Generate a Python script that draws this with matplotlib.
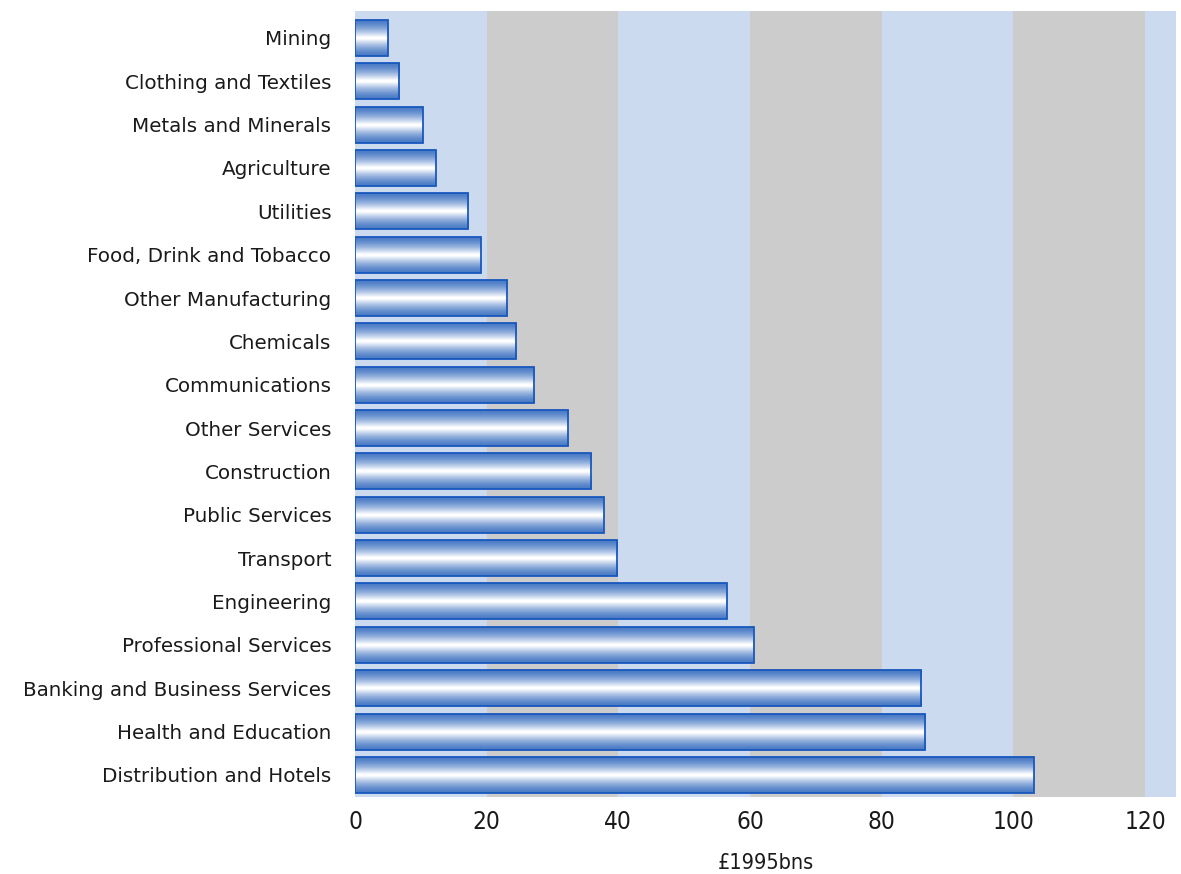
import numpy as np
import matplotlib
matplotlib.use("Agg")
import matplotlib.pyplot as plt
from matplotlib.colors import LinearSegmentedColormap
from matplotlib.patches import Rectangle

sectors = [
    "Mining", "Clothing and Textiles", "Metals and Minerals", "Agriculture",
    "Utilities", "Food, Drink and Tobacco", "Other Manufacturing", "Chemicals",
    "Communications", "Other Services", "Construction", "Public Services",
    "Transport", "Engineering", "Professional Services",
    "Banking and Business Services", "Health and Education",
    "Distribution and Hotels",
]
output_bns = [5.0, 6.7, 10.3, 12.3, 17.2, 19.1, 23.1, 24.5, 27.2, 32.4,
              35.9, 37.8, 39.8, 56.5, 60.6, 86.0, 86.6, 103.1]
xticks = [0, 20, 40, 60, 80, 100, 120]
xlabel = "£1995bns"

plt.rcParams["font.family"] = ["DejaVu Sans"]

fig = plt.figure(figsize=(11.81, 8.74), dpi=100)
ax = fig.add_axes([0.3006, 0.0881, 0.6952, 0.8993])

xmax = 124.7
ylim = (17.51, -0.62)

# alternating background bands every 20 units
band_colors = ["#ccdaf0", "#cccccc"]
for i, x0 in enumerate(range(0, 140, 20)):
    ax.axvspan(x0, min(x0 + 20, xmax), color=band_colors[i % 2], lw=0, zorder=0)

# bars with a vertical blue-white-blue gradient
cmap = LinearSegmentedColormap.from_list("tube", ["#4a7bc5", "#ffffff"])
prof = 1 - np.abs(np.linspace(-1, 1, 128))
prof = np.clip(prof * 1.05, 0, 1) ** 1.5
grad = prof.reshape(-1, 1)
h = 0.83
for i, v in enumerate(output_bns):
    ax.imshow(grad, cmap=cmap, vmin=0, vmax=1, aspect="auto",
              extent=[0, v, i + h / 2, i - h / 2], zorder=2,
              interpolation="bilinear")
    ax.add_patch(Rectangle((0, i - h / 2), v, h, fill=False,
                           edgecolor="#1858be", lw=1.3, zorder=3))

ax.set_xlim(0, xmax)
ax.set_ylim(*ylim)

ax.set_yticks(range(len(sectors)))
ax.set_yticklabels(sectors, fontsize=14.3, color="#1a1a1a")
ax.set_xticks(xticks)
ax.set_xticklabels([str(t) for t in xticks], fontsize=17.5, color="#1a1a1a",
                   fontstretch="condensed")
ax.tick_params(length=0)
ax.tick_params(axis="y", pad=17)
ax.tick_params(axis="x", pad=9)
ax.set_xlabel(xlabel, fontsize=15.5, color="#1a1a1a", labelpad=14,
              fontstretch="condensed")
for s in ax.spines.values():
    s.set_visible(False)

fig.savefig("out.png", dpi=100)
